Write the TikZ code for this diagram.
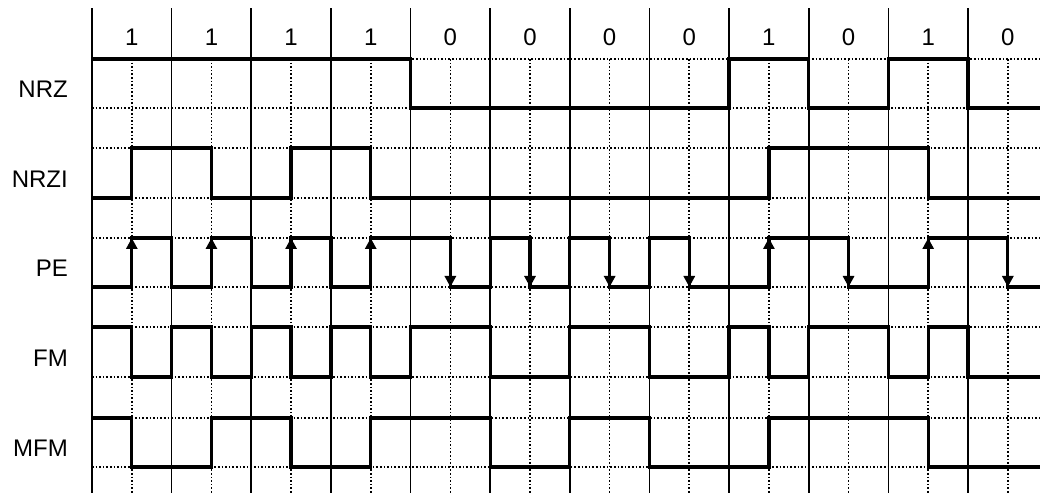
\documentclass[tikz,border=0pt]{standalone}
\usepackage{fontspec}
\setmainfont{Liberation Sans}
\usetikzlibrary{arrows.meta}
\begin{document}
\begin{tikzpicture}[x=79.64pt,y=-1pt,shift={(92pt,0)},
  gridsolid/.style={line width=1.6pt,black},
  griddot/.style={line width=1.6pt,black,dash pattern=on 1.6pt off 2pt},
  signal/.style={line width=3.3pt,black,line join=miter},
  uparr/.style={line width=3.3pt,-{Triangle[width=11pt,length=11pt]}},
  lbl/.style={anchor=base east,inner sep=0pt,font=\fontsize{24}{26}\selectfont},
  bitlbl/.style={anchor=base,inner sep=0pt,font=\fontsize{24}{26}\selectfont}]
\def\R{11.904}
\useasboundingbox (-1.1552,0) rectangle (\R,493);
% dotted grid
\foreach \y in {59,108,148,198,238,287,327,377,418,467}
  \draw[griddot] (0,\y) -- (\R,\y);
\foreach \i in {0,...,11}
  \draw[griddot] (\i+0.5,59) -- (\i+0.5,493);
% solid bit boundaries
\foreach \i in {0,...,11}
  \draw[gridsolid] (\i,8) -- (\i,493);
% bit labels
\foreach \b [count=\k from 0] in {1,1,1,1,0,0,0,0,1,0,1,0}
  \node[bitlbl] (bit\k) at (\k+0.5,45) {\b};
% row labels
\node[lbl] (nrz) at (-0.3014,98) {NRZ};
\node[lbl] (nrzi) at (-0.3014,188) {NRZI};
\node[lbl] (pe) at (-0.3014,277) {PE};
\node[lbl] (fm) at (-0.3014,367) {FM};
\node[lbl] (mfm) at (-0.3014,457) {MFM};
% NRZ
\draw[signal] (0,59) -- (4,59) -- (4,108) -- (8,108) -- (8,59) -- (9,59) -- (9,108) -- (10,108) -- (10,59) -- (11,59) -- (11,108) -- (\R,108);
% NRZI
\draw[signal] (0,198) -- (0.5,198) -- (0.5,148) -- (1.5,148) -- (1.5,198) -- (2.5,198) -- (2.5,148) -- (3.5,148) -- (3.5,198) -- (8.5,198) -- (8.5,148) -- (10.5,148) -- (10.5,198) -- (\R,198);
% PE
\draw[signal] (0,287) -- (0.5,287) -- (0.5,238) -- (1,238) -- (1,287) -- (1.5,287) -- (1.5,238) -- (2,238) -- (2,287) -- (2.5,287) -- (2.5,238) -- (3,238) -- (3,287) -- (3.5,287) -- (3.5,238) -- (4.5,238) -- (4.5,287) -- (5,287) -- (5,238) -- (5.5,238) -- (5.5,287) -- (6,287) -- (6,238) -- (6.5,238) -- (6.5,287) -- (7,287) -- (7,238) -- (7.5,238) -- (7.5,287) -- (8.5,287) -- (8.5,238) -- (9.5,238) -- (9.5,287) -- (10.5,287) -- (10.5,238) -- (11.5,238) -- (11.5,287) -- (\R,287);
\foreach \x in {0.5,1.5,2.5,3.5,8.5,10.5}
  \draw[uparr] (\x,287) -- (\x,238);
\foreach \x in {4.5,5.5,6.5,7.5,9.5,11.5}
  \draw[uparr] (\x,238) -- (\x,287);
% FM
\draw[signal] (0,327) -- (0.5,327) -- (0.5,377) -- (1,377) -- (1,327) -- (1.5,327) -- (1.5,377) -- (2,377) -- (2,327) -- (2.5,327) -- (2.5,377) -- (3,377) -- (3,327) -- (3.5,327) -- (3.5,377) -- (4,377) -- (4,327) -- (5,327) -- (5,377) -- (6,377) -- (6,327) -- (7,327) -- (7,377) -- (8,377) -- (8,327) -- (8.5,327) -- (8.5,377) -- (9,377) -- (9,327) -- (10,327) -- (10,377) -- (10.5,377) -- (10.5,327) -- (11,327) -- (11,377) -- (\R,377);
% MFM
\draw[signal] (0,418) -- (0.5,418) -- (0.5,467) -- (1.5,467) -- (1.5,418) -- (2.5,418) -- (2.5,467) -- (3.5,467) -- (3.5,418) -- (5,418) -- (5,467) -- (6,467) -- (6,418) -- (7,418) -- (7,467) -- (8.5,467) -- (8.5,418) -- (10.5,418) -- (10.5,467) -- (\R,467);
\end{tikzpicture}
\end{document}
